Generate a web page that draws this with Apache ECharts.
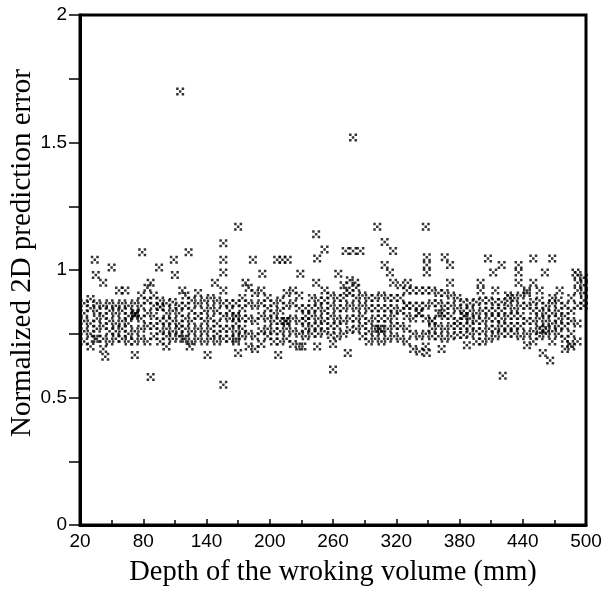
<!DOCTYPE html>
<html>
<head>
<meta charset="utf-8">
<script src="https://cdn.jsdelivr.net/npm/echarts@6/dist/echarts.min.js"></script>
<style>
html,body{margin:0;padding:0;background:#fff;}
#chart{width:604px;height:593px;}
</style>
</head>
<body>
<div id="chart"></div>
<script>
// Depth columns of the dense band (mm)
const bandDepths = [24,30,36,42,48,54,60,66,72,78,84,90,96,102,108,114,120,126,132,138,144,150,156,162,168,174,180,186,192,198,204,210,216,222,228,234,240,246,252,258,264,270,276,282,288,294,300,306,312,318,324,330,336,342,348,354,360,366,372,378,384,390,396,402,408,414,420,426,432,438,444,450,456,462,468,474,480,486,492,498];
// Normalized 2D prediction error values in each band column (top to bottom)
const bandRow1 = [0.87,0.886,0.87,0.86,0.87,0.86,0.87,0.86,0.87,0.90,0.93,0.90,0.88,0.87,0.875,0.86,0.90,0.88,0.91,0.88,0.89,0.88,0.92,0.87,0.87,0.89,0.93,0.91,0.92,0.89,0.87,0.88,0.91,0.92,0.90,0.85,0.89,0.88,0.92,0.90,0.89,0.94,0.96,0.93,0.90,0.89,0.89,0.90,0.89,0.89,0.94,0.92,0.92,0.92,0.92,0.92,0.91,0.91,0.90,0.89,0.875,0.87,0.875,0.88,0.88,0.875,0.875,0.90,0.89,0.90,0.91,0.875,0.88,0.86,0.87,0.88,0.86,0.89,0.98,0.97];
const bandRow2 = [0.83,0.85,0.84,0.82,0.84,0.83,0.84,0.82,0.83,0.86,0.88,0.86,0.855,0.83,0.84,0.83,0.86,0.84,0.87,0.84,0.85,0.84,0.87,0.84,0.82,0.85,0.87,0.86,0.87,0.85,0.83,0.84,0.86,0.87,0.85,0.82,0.85,0.85,0.88,0.86,0.85,0.89,0.91,0.89,0.86,0.85,0.85,0.85,0.85,0.85,0.89,0.86,0.86,0.86,0.86,0.87,0.87,0.86,0.86,0.85,0.84,0.84,0.83,0.84,0.84,0.84,0.84,0.86,0.85,0.86,0.86,0.84,0.84,0.83,0.83,0.84,0.82,0.84,0.92,0.94];
const bandRow3 = [0.80,0.79,0.81,0.78,0.80,0.79,0.80,0.79,0.82,0.81,0.83,0.82,0.80,0.80,0.80,0.79,0.81,0.80,0.82,0.80,0.81,0.79,0.82,0.81,0.79,0.81,0.81,0.80,0.82,0.81,0.80,0.80,0.80,0.81,0.80,0.80,0.82,0.81,0.84,0.82,0.81,0.85,0.86,0.85,0.82,0.80,0.81,0.81,0.81,0.82,0.84,0.82,0.81,0.83,0.81,0.80,0.83,0.82,0.82,0.80,0.82,0.81,0.80,0.80,0.81,0.81,0.81,0.82,0.82,0.82,0.80,0.80,0.81,0.80,0.79,0.81,0.78,0.80,0.86,0.91];
const bandRow4 = [0.76,0.75,0.77,0.73,0.76,0.76,0.77,0.75,0.76,0.77,0.78,0.78,0.76,0.77,0.76,0.77,0.77,0.76,0.77,0.76,0.77,0.75,0.77,0.77,0.76,0.77,0.75,0.74,0.76,0.77,0.76,0.76,0.77,0.76,0.75,0.77,0.78,0.78,0.80,0.78,0.78,0.80,0.81,0.81,0.78,0.76,0.77,0.76,0.77,0.78,0.78,0.77,0.75,0.74,0.75,0.77,0.78,0.77,0.78,0.78,0.78,0.78,0.76,0.76,0.77,0.77,0.78,0.78,0.78,0.78,0.75,0.76,0.77,0.77,0.76,0.78,0.73,0.75,0.79,0.88];
const bandRow5 = [0.72,0.70,0.73,0.69,0.72,0.73,0.73,0.72,0.72,0.73,0.72,0.74,0.72,0.74,0.73,0.74,0.73,0.72,0.73,0.72,0.73,0.72,0.73,0.73,0.72,0.74,0.70,0.69,0.71,0.74,0.72,0.72,0.73,0.71,0.70,0.74,0.75,0.75,0.76,0.745,0.74,0.75,0.765,0.77,0.74,0.72,0.73,0.72,0.73,0.74,0.73,0.72,0.69,0.68,0.70,0.74,0.74,0.73,0.74,0.745,0.745,0.75,0.72,0.72,0.73,0.74,0.75,0.75,0.75,0.74,0.705,0.72,0.74,0.75,0.72,0.75,0.69,0.70,0.72,0.86];

// Scattered points outside / overlapping the band
const extraDepths = [34,35,42,50,79,95,109,110,123,115,57,63,87,117,170,156,156,156,148,184,193,177,207,212,217,229,244,245,244,252,265,279,302,348,272,279,286,309,317,309,314,317,281,273,331,349,349,349,366,371,371,407,420,412,436,436,436,450,450,468,461,490,400,400,414,456,475,444,468,492,
  44,72,87,102,124,141,156,170,208,231,245,260,260,274,349,363,387,421,459,466,485,
  72,73,118,214,215,303,305,330,341,354,363,385,428,459,168,168,34,96];
const extraErrors = [1.04,0.98,0.95,1.01,1.07,1.01,1.04,0.98,1.07,1.70,0.92,0.92,0.95,0.92,1.17,1.105,1.04,0.99,0.95,1.04,0.985,0.95,1.04,1.04,1.04,0.985,1.14,1.045,0.95,1.08,0.985,1.52,1.17,1.17,1.075,1.075,1.075,1.11,1.075,1.02,0.99,0.95,0.95,0.92,0.95,1.05,1.02,0.99,1.05,1.02,0.95,1.045,1.02,0.99,1.02,0.99,0.95,1.045,0.95,1.045,0.99,0.99,0.95,0.92,0.92,0.92,0.92,0.92,0.89,0.95,
  0.66,0.667,0.58,0.70,0.70,0.667,0.55,0.675,0.667,0.70,0.70,0.71,0.61,0.675,0.675,0.69,0.705,0.585,0.675,0.645,0.71,
  0.825,0.83,0.73,0.80,0.80,0.77,0.77,0.86,0.83,0.80,0.83,0.82,0.89,0.765,0.82,0.73,0.73,0.855];

const xTicksMin = 20, xTicksMax = 500, xTickStep = 60;
const yTicksMin = 0, yTicksMax = 2, yTickStep = 0.5;

const bandRows = [bandRow1, bandRow2, bandRow3, bandRow4, bandRow5];
const bandData = [];
bandRows.forEach(row => row.forEach((v, i) => bandData.push([bandDepths[i], v])));
const extraData = extraDepths.map((d, i) => [d, extraErrors[i]]);

const markerPath = 'path://M0,0h2.5v2.5h-2.5zM5.5,0h2.5v2.5h-2.5zM2.75,2.75h2.5v2.5h-2.5zM0,5.5h2.5v2.5h-2.5zM5.5,5.5h2.5v2.5h-2.5z';

const chart = echarts.init(document.getElementById('chart'), null, {renderer: 'canvas'});
chart.setOption({
  animation: false,
  backgroundColor: '#fff',
  grid: {left: 80, right: 18, top: 15, bottom: 68, show: true, borderColor: '#000', borderWidth: 3, backgroundColor: 'transparent', containLabel: false, outerBoundsMode: 'none'},
  xAxis: {
    type: 'value', min: xTicksMin, max: xTicksMax, interval: xTickStep,
    name: 'Depth of the wroking volume (mm)', nameLocation: 'middle', nameGap: 33,
    nameTextStyle: {fontFamily: 'Liberation Serif', fontSize: 28.5, color: '#000'},
    axisLine: {show: true, lineStyle: {color: '#000', width: 3}},
    axisTick: {show: true, inside: true, length: 6, lineStyle: {color: '#000', width: 1.5}},
    minorTick: {show: true, splitNumber: 2, length: 5, lineStyle: {color: '#000', width: 1.5}},
    axisLabel: {fontFamily: 'Liberation Sans', fontSize: 19, color: '#000', margin: 7, showMinLabel: true, showMaxLabel: true},
    splitLine: {show: false}
  },
  yAxis: {
    type: 'value', min: yTicksMin, max: yTicksMax, interval: yTickStep,
    axisLine: {show: true, lineStyle: {color: '#000', width: 3}},
    axisTick: {show: true, inside: false, length: 11, lineStyle: {color: '#000', width: 1.5}},
    minorTick: {show: true, splitNumber: 2, length: 11, lineStyle: {color: '#000', width: 1.5}},
    axisLabel: {fontFamily: 'Liberation Sans', fontSize: 19, color: '#000', margin: 13, showMinLabel: true, showMaxLabel: true},
    splitLine: {show: false}
  },
  graphic: [{
    type: 'text', x: 22, y: 253, rotation: Math.PI / 2,
    style: {text: 'Normalized 2D prediction error', fontFamily: 'Liberation Serif', fontSize: 29, fill: '#000', align: 'center', verticalAlign: 'middle', textAlign: 'center', textVerticalAlign: 'middle'}
  }],
  series: [
    {type: 'scatter', data: bandData, symbol: markerPath, symbolSize: 8, itemStyle: {color: '#000'}, silent: true},
    {type: 'scatter', data: extraData, symbol: markerPath, symbolSize: 8, itemStyle: {color: '#000'}, silent: true}
  ]
});
</script>
</body>
</html>
